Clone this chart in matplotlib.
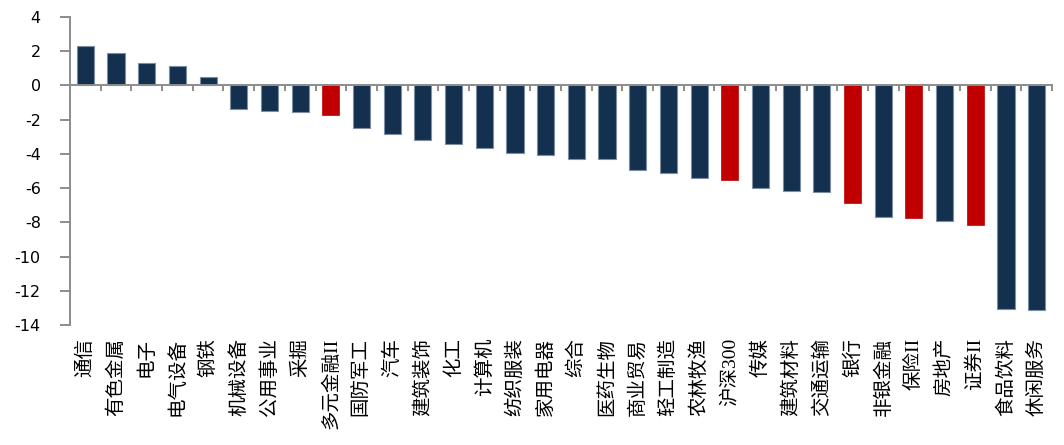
import numpy as np
import matplotlib
matplotlib.use("Agg")
import matplotlib.pyplot as plt
import matplotlib.ticker as ticker

plt.rcParams['font.family'] = ['Noto Sans CJK SC', 'DejaVu Sans']
plt.rcParams['axes.unicode_minus'] = False

industries = ['通信', '有色金属', '电子', '电气设备', '钢铁', '机械设备', '公用事业', '采掘',
              '多元金融II', '国防军工', '汽车', '建筑装饰', '化工', '计算机', '纺织服装', '家用电器',
              '综合', '医药生物', '商业贸易', '轻工制造', '农林牧渔', '沪深300', '传媒', '建筑材料',
              '交通运输', '银行', '非银金融', '保险II', '房地产', '证券II', '食品饮料', '休闲服务']
returns = [2.33, 1.90, 1.33, 1.11, 0.51, -1.38, -1.48, -1.54,
           -1.70, -2.50, -2.85, -3.20, -3.43, -3.65, -3.92, -4.04,
           -4.31, -4.31, -4.96, -5.13, -5.43, -5.51, -6.01, -6.19,
           -6.21, -6.85, -7.67, -7.73, -7.95, -8.16, -13.04, -13.12]
highlight = ['多元金融II', '沪深300', '银行', '保险II', '证券II']

navy = '#13304f'
red = '#c00000'
gray = '#8c8c8c'

fig = plt.figure(figsize=(10.64, 4.45), dpi=100)
ax = fig.add_axes([70/1064, 1-325/445, 982/1064, 308/445])

for i, (name, v) in enumerate(zip(industries, returns)):
    if name in highlight:
        ax.bar(i, v, width=0.56, color=red, edgecolor=red, linewidth=0.5, zorder=2)
    else:
        ax.bar(i, v, width=0.56, color=navy, edgecolor='#7d8ea3', linewidth=0.8, zorder=2)

ax.set_xlim(-0.5, len(industries) - 0.5)
ax.set_ylim(-14, 4)
ax.yaxis.set_major_locator(ticker.MultipleLocator(2))

for s in ['top', 'right']:
    ax.spines[s].set_visible(False)
ax.spines['bottom'].set_position(('data', 0))
ax.spines['bottom'].set_color(gray)
ax.spines['left'].set_color(gray)
ax.spines['bottom'].set_linewidth(1.4)
ax.spines['left'].set_linewidth(1.4)
ax.spines['bottom'].set_zorder(3)

ax.set_xticks(np.arange(-0.5, len(industries), 1.0))
ax.set_xticklabels([])
ax.tick_params(axis='x', direction='out', length=4, width=1.4, color=gray)
ax.tick_params(axis='y', direction='out', length=7, width=1.4, color=gray,
               labelsize=11.5, pad=14)
for lab in ax.get_yticklabels():
    lab.set_fontfamily('DejaVu Sans')

# category labels rotated 90 degrees, ending just below the plot area
trans = ax.get_xaxis_transform()
y0 = -13/308
for i, name in enumerate(industries):
    ax.text(i, y0, name, transform=trans, rotation=90, ha='center', va='top',
            fontsize=14, family=['Liberation Serif', 'Noto Sans CJK SC'])

fig.savefig('out.png', dpi=100)
